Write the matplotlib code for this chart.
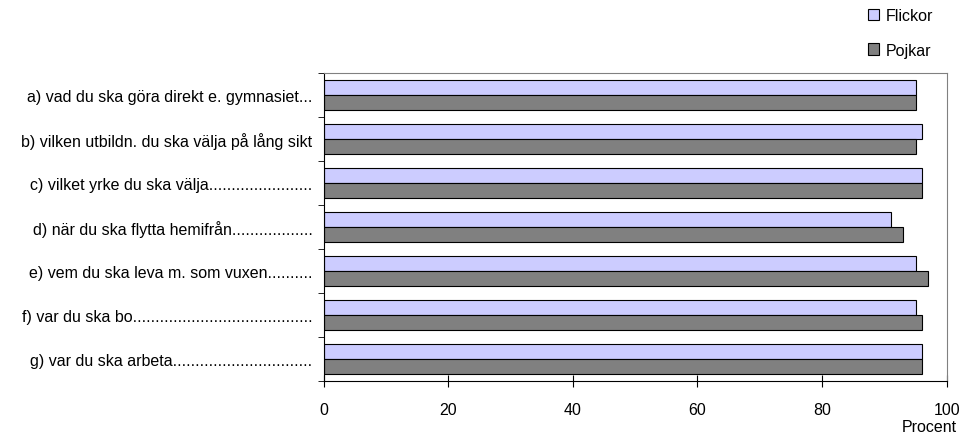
import numpy as np
import matplotlib.pyplot as plt
from matplotlib.ticker import MultipleLocator

plt.rcParams['font.family'] = ['Liberation Sans', 'DejaVu Sans']

# Data
categories = [
    "a) vad du ska göra direkt e. gymnasiet...",
    "b) vilken utbildn. du ska välja på lång sikt",
    "c) vilket yrke du ska välja.......................",
    "d) när du ska flytta hemifrån..................",
    "e) vem du ska leva m. som vuxen..........",
    "f) var du ska bo........................................",
    "g) var du ska arbeta...............................",
]
flickor = [95, 96, 96, 91, 95, 95, 96]
pojkar = [95, 95, 96, 93, 97, 96, 96]

fig = plt.figure(figsize=(9.66, 4.39), dpi=100)
ax = fig.add_axes([0.335, 0.130, 0.645, 0.701])

y = np.arange(len(categories))
h = 0.34
ax.barh(y - h / 2, flickor, height=h, color='#CCCCFF', edgecolor='black',
        linewidth=0.8, label='Flickor')
ax.barh(y + h / 2, pojkar, height=h, color='#808080', edgecolor='black',
        linewidth=0.8, label='Pojkar')

ax.set_xlim(0, 100)
ax.set_ylim(len(categories) - 0.5, -0.5)
ax.xaxis.set_major_locator(MultipleLocator(20))
ax.tick_params(axis='x', direction='inout', length=8, labelsize=11.5, pad=11)

# category labels, ticks between categories
ax.set_yticks(y)
ax.set_yticklabels(categories, fontsize=11.5)
ax.tick_params(axis='y', length=0, pad=8)
ax.set_yticks(np.arange(len(categories) + 1) - 0.5, minor=True)
ax.tick_params(axis='y', which='minor', length=4, direction='out')

for s in ['top', 'right']:
    ax.spines[s].set_color('#808080')
for s in ['left', 'bottom']:
    ax.spines[s].set_color('black')

fig.text(0.991, 0.01, 'Procent', ha='right', va='bottom', fontsize=11.5)

fig.legend(loc='upper left', bbox_to_anchor=(0.892, 0.993), frameon=False,
           fontsize=11.5, handlelength=0.7, handleheight=0.7, handletextpad=0.4,
           labelspacing=1.2, borderaxespad=0)

fig.savefig('out.png', dpi=100)
